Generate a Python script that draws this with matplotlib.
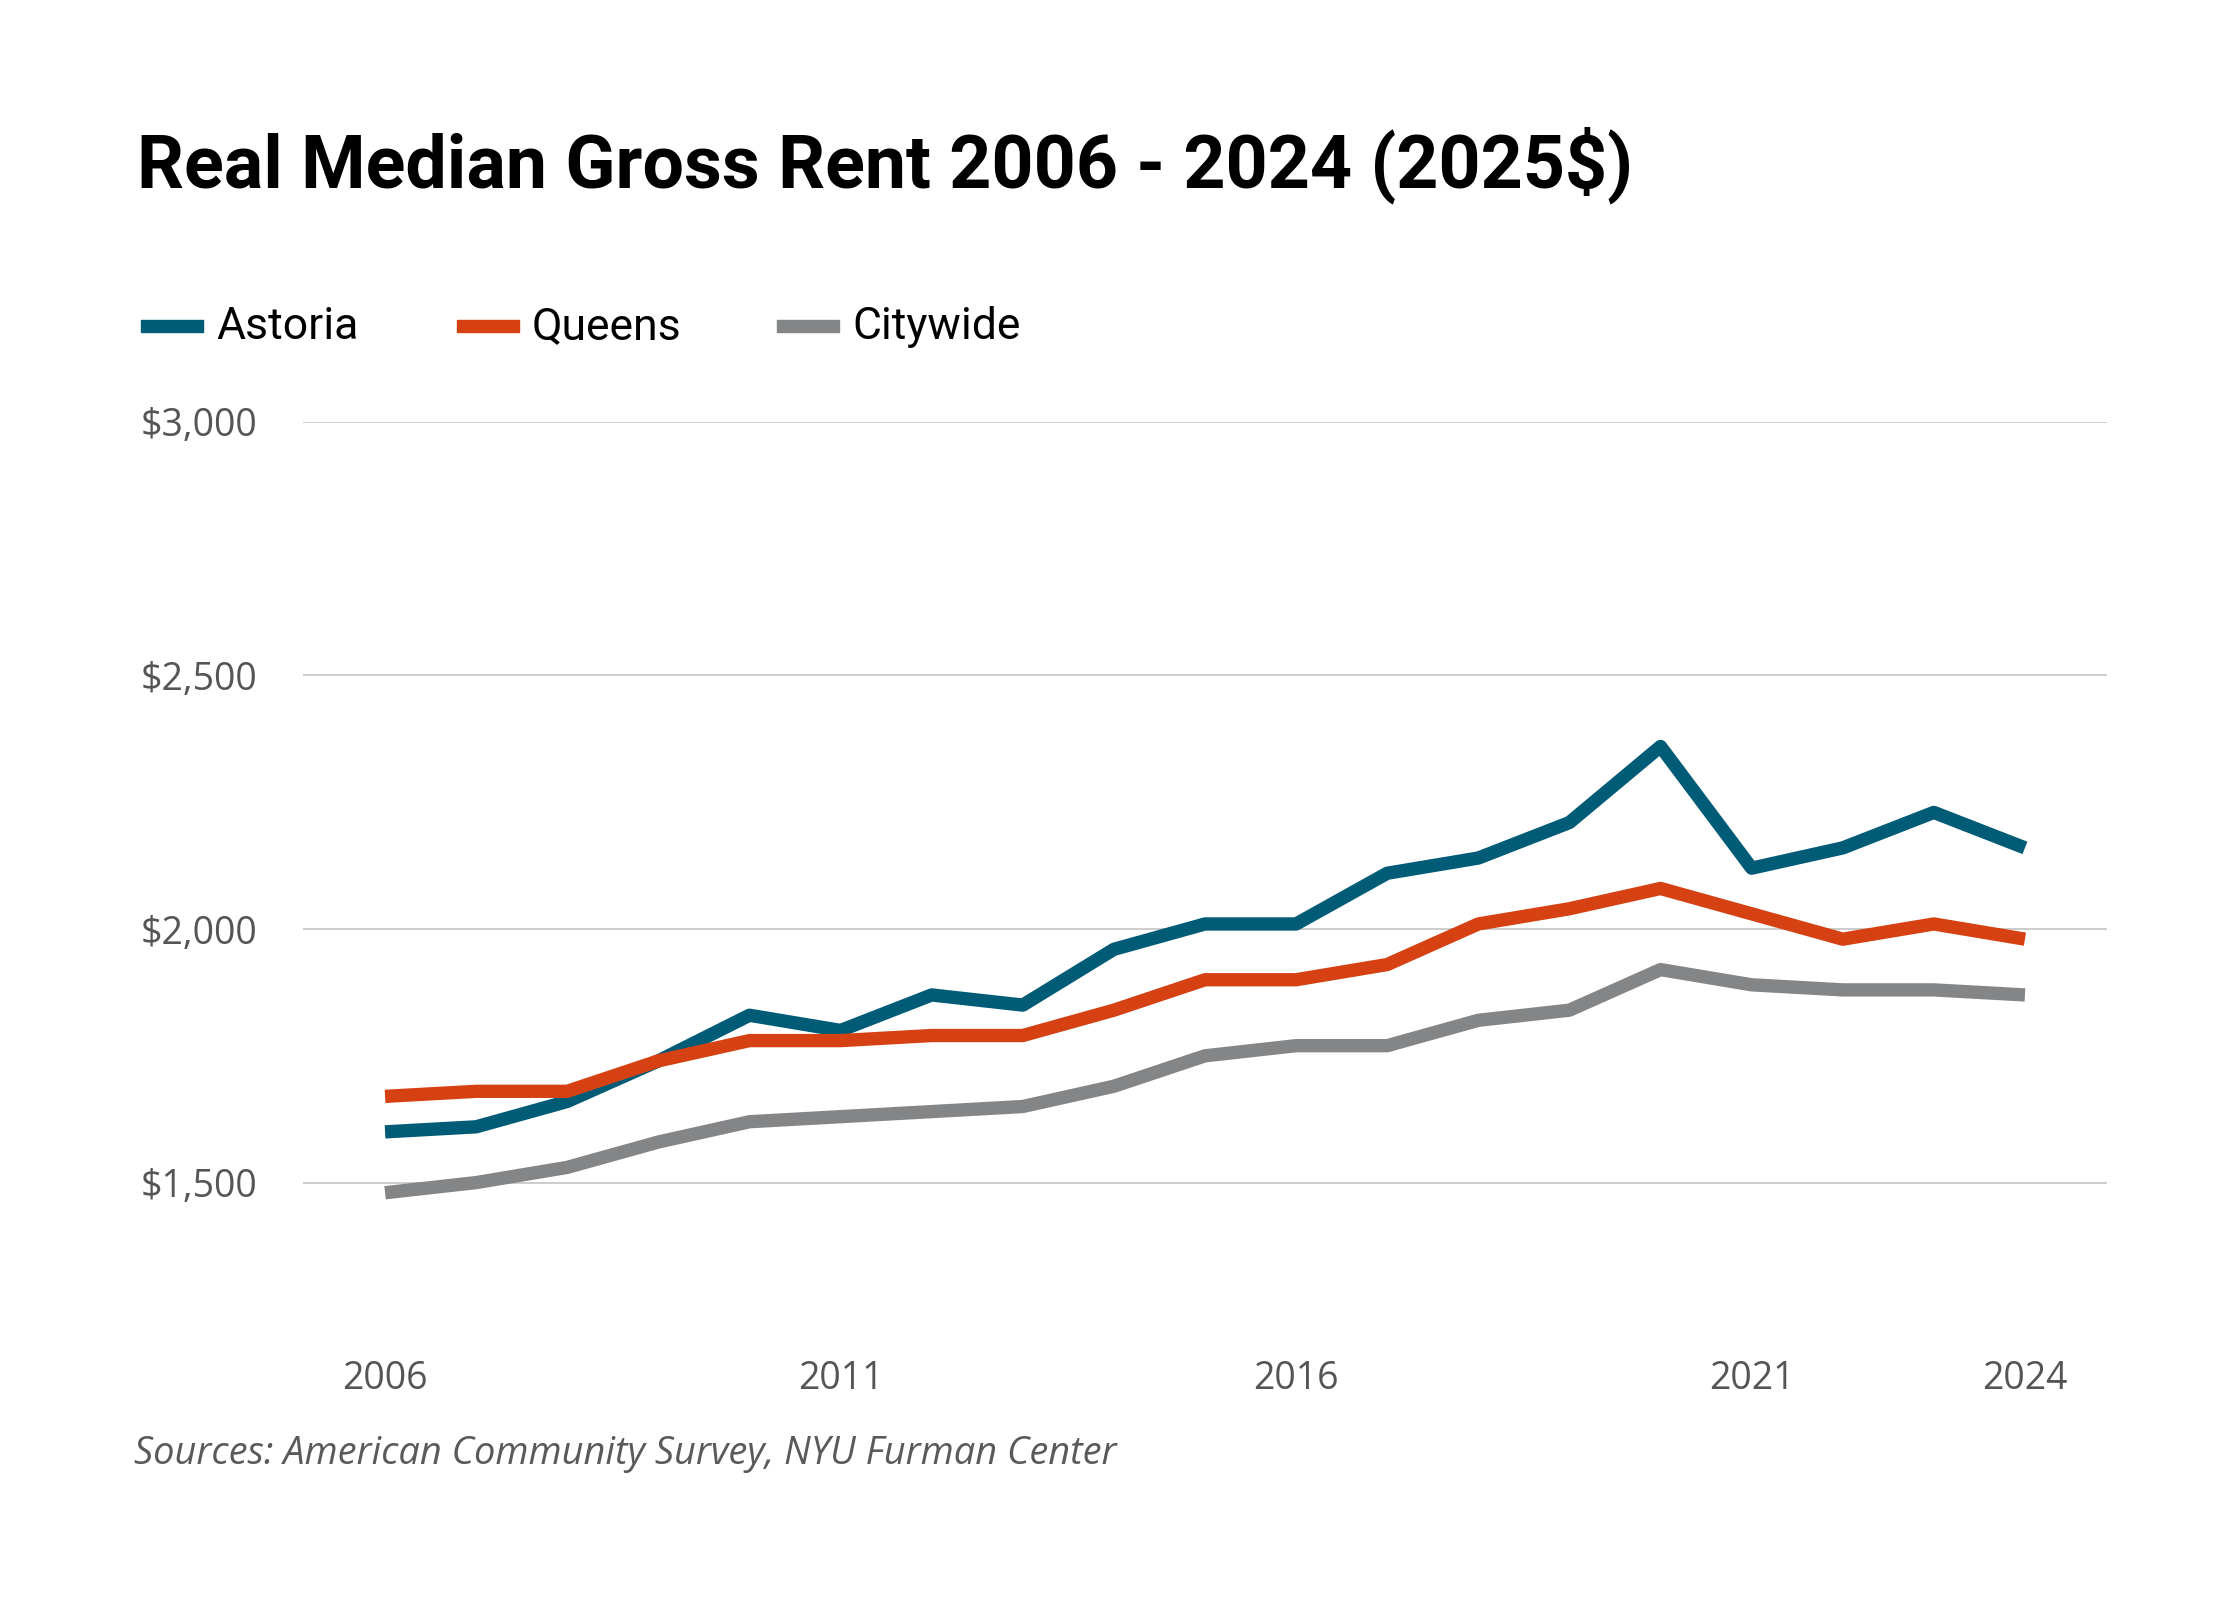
import numpy as np
import matplotlib.pyplot as plt

years = list(range(2006, 2025))
astoria = [1600, 1610, 1660, 1740, 1830, 1800, 1870, 1850, 1960, 2010,
           2010, 2110, 2140, 2210, 2360, 2120, 2160, 2230, 2160]
queens = [1670, 1680, 1680, 1740, 1780, 1780, 1790, 1790, 1840, 1900,
          1900, 1930, 2010, 2040, 2080, 2030, 1980, 2010, 1980]
citywide = [1480, 1500, 1530, 1580, 1620, 1630, 1640, 1650, 1690, 1750,
            1770, 1770, 1820, 1840, 1920, 1890, 1880, 1880, 1870]

series_names = ["Astoria", "Queens", "Citywide"]
colors = ["#005B76", "#D54113", "#848587"]

x_ticks = [2006, 2011, 2016, 2021, 2024]
y_ticks = [1500, 2000, 2500, 3000]
y_labels = ["$1,500", "$2,000", "$2,500", "$3,000"]

title = "Real Median Gross Rent 2006 - 2024 (2025$)"
source = "Sources: American Community Survey, NYU Furman Center"

fig = plt.figure(figsize=(22.4, 16), dpi=100)
ax = fig.add_axes([0.1353, 0.1658, 0.8053, 0.5705])

for name, vals, c in zip(series_names, [astoria, queens, citywide], colors):
    ax.plot(years, vals, color=c, linewidth=9.6, solid_capstyle="butt",
            solid_joinstyle="round", label=name, zorder=3)

ax.set_xlim(2005.1, 2024.9)
ax.set_ylim(1200, 3000)
ax.set_yticks(y_ticks)
ax.set_yticklabels(y_labels)
ax.set_xticks(x_ticks)
ax.grid(axis="y", color="#cccccc", linewidth=1.4, zorder=0)
ax.set_axisbelow(True)
for s in ax.spines.values():
    s.set_visible(False)
ax.tick_params(length=0)
ax.tick_params(axis="y", pad=33, labelsize=27, labelcolor="#555555")
ax.tick_params(axis="x", pad=18, labelsize=27, labelcolor="#555555")
for lab in ax.get_xticklabels() + ax.get_yticklabels():
    lab.set_fontfamily(["Open Sans", "DejaVu Sans"])

fig.text(0.061, 0.897, title, fontsize=53, fontweight="bold",
         family=["Roboto", "DejaVu Sans"], va="center", ha="left")

# legend drawn by hand to match spacing
leg_x = [0.063, 0.204, 0.347]
for x0, name, c in zip(leg_x, series_names, colors):
    fig.patches.append(plt.Rectangle((x0, 0.7925), 0.0275, 0.0075, color=c,
                                     transform=fig.transFigure, figure=fig))
    fig.text(x0 + 0.0335, 0.7955, name, fontsize=32,
             family=["Roboto", "DejaVu Sans"], va="center", ha="left")

fig.text(0.06, 0.0915, source, fontsize=27.4, fontstyle="italic",
         color="#5a5a5a", family=["Open Sans", "DejaVu Sans"], va="center", ha="left")

fig.savefig("out.png", dpi=100, facecolor="white")
